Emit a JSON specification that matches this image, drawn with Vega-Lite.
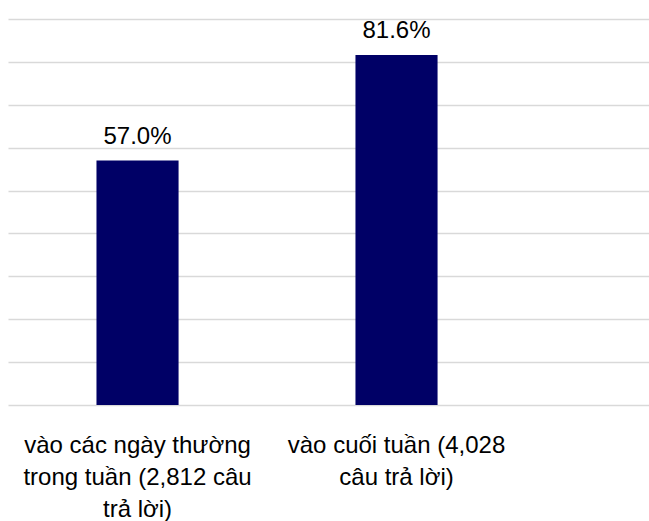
{
  "$schema": "https://vega.github.io/schema/vega-lite/v6.json",
  "width": 641,
  "height": 386,
  "autosize": {"type": "none"},
  "padding": {"left": 8, "top": 19, "right": 0, "bottom": 116},
  "background": "white",
  "config": {"view": {"stroke": null}, "font": "Liberation Sans"},
  "data": {
    "values": [
      {"category": "vào các ngày thường|trong tuần (2,812 câu|trả lời)", "value": 57.0, "label": "57.0%"},
      {"category": "vào cuối tuần (4,028|câu trả lời)", "value": 81.6, "label": "81.6%"}
    ]
  },
  "encoding": {
    "x": {
      "field": "category",
      "type": "nominal",
      "sort": null,
      "scale": {"paddingInner": 0.683, "paddingOuter": 0.579, "align": 0.295},
      "axis": {
        "title": null,
        "domain": false,
        "ticks": false,
        "labelAngle": 0,
        "labelFontSize": 24,
        "labelColor": "#000000",
        "labelFont": "Liberation Sans",
        "labelBaseline": "alphabetic",
        "labelPadding": 47,
        "labelLineHeight": 32,
        "labelLimit": 300,
        "labelExpr": "split(datum.label, '|')"
      }
    },
    "y": {
      "field": "value",
      "type": "quantitative",
      "scale": {"domain": [0, 90], "nice": false},
      "axis": {
        "title": null,
        "domain": false,
        "ticks": false,
        "labels": false,
        "values": [0, 10, 20, 30, 40, 50, 60, 70, 80, 90],
        "grid": true,
        "gridColor": "#d9d9d9",
        "gridWidth": 1.5
      }
    }
  },
  "layer": [
    {"mark": {"type": "bar", "color": "#000066"}},
    {
      "mark": {"type": "text", "baseline": "alphabetic", "dy": -17, "fontSize": 24, "color": "#000000", "font": "Liberation Sans"},
      "encoding": {"text": {"field": "label"}}
    }
  ]
}
